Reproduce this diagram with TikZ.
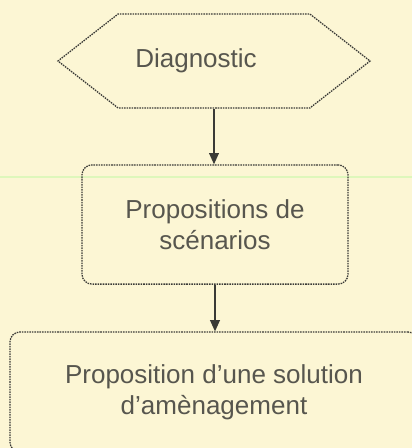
\documentclass[tikz,border=0pt]{standalone}
\usepackage{fontspec}
\setmainfont{Liberation Sans}
\usetikzlibrary{shapes.symbols,arrows.meta}
\definecolor{papier}{RGB}{252,246,212}
\definecolor{trait}{RGB}{58,58,54}

\begin{document}
\begin{tikzpicture}[x=0.025cm,y=-0.025cm,
     every node/.style={font=\fontsize{18.5}{22}\selectfont,text=trait!85!papier},
     pointille/.style={draw=trait,line width=0.9pt,dash pattern=on 1.1pt off 0.7pt},
     cadre/.style={pointille,rounded corners=0.25cm,align=center,inner sep=0pt},
     fleche/.style={draw=trait,line width=0.9pt,-{Triangle[length=8pt,width=7pt]}}]
     \fill[papier] (0,0) rectangle (412,448);
     \useasboundingbox (0,0) rectangle (412,448);
     \clip (0,0) rectangle (412,448);
     \draw[green!12!papier,line width=1.2pt] (0,177) -- (412,177);
     \node[pointille,shape=signal,signal to=west and east,signal pointer angle=76,
      minimum width=7.8cm,minimum height=2.35cm,inner sep=0pt] (diag) at (214,61)
      {Diagnostic\rule{0.9cm}{0pt}};
     \node[cadre,minimum width=6.65cm,minimum height=2.98cm] (scen) at (215,224.5)
      {Propositions de\\sc\'enarios};
     \node[cadre,minimum width=10.2cm,minimum height=3cm] (amen) at (214,392)
      {Proposition d'une solution\\d'am\`enagement};
     \draw[fleche] (diag.south) -- (diag.south |- scen.north);
     \draw[fleche] (scen.south) -- (scen.south |- amen.north);
    \end{tikzpicture}
\end{document}
